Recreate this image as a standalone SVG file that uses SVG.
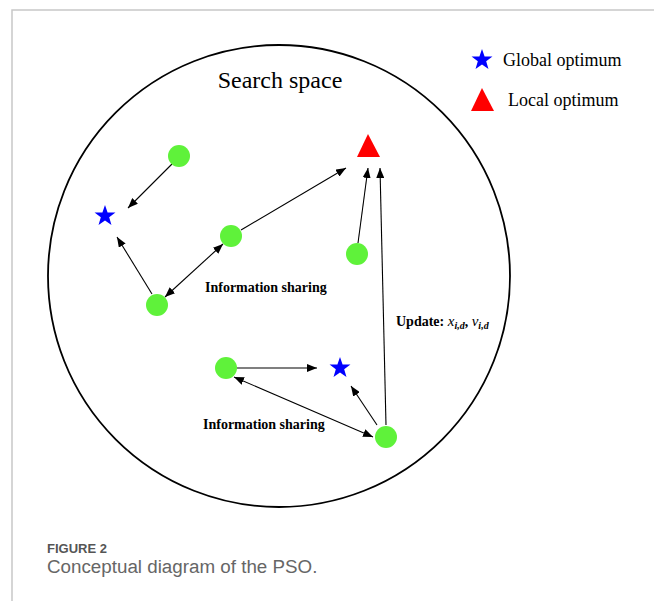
<svg xmlns="http://www.w3.org/2000/svg" xmlns:xlink="http://www.w3.org/1999/xlink" width="654" height="601" viewBox="0 0 654 601">
<style>
.frame{stroke:#c8c8c8;stroke-width:1.5;fill:none}
.space{fill:none;stroke:#000;stroke-width:1.8}
.particle{fill:#5FF23A}
.gbest{fill:#0000FF}
.lbest{fill:#FF0000}
.conn line{stroke:#000;stroke-width:1.1;fill:none}
.serif{font-family:"Liberation Serif","Times New Roman",serif;fill:#000}
.lbl{font-family:"Liberation Serif","Times New Roman",serif;font-weight:bold;font-size:14px;fill:#000}
.cap{font-family:"Liberation Sans",Arial,sans-serif}
</style>
<defs>
<marker id="ah" viewBox="0 0 10 8" refX="10" refY="4" markerWidth="10" markerHeight="8" markerUnits="userSpaceOnUse" orient="auto-start-reverse">
<path d="M0,0 L10,4 L0,8 z" fill="#000"/>
</marker>
<path id="star" d="M0,-11 L2.59,-3.56 L10.46,-3.4 L4.18,1.36 L6.47,8.9 L0,4.4 L-6.47,8.9 L-4.18,1.36 L-10.46,-3.4 L-2.59,-3.56 Z"/>
</defs>
<rect width="654" height="601" fill="#fff"/>
<path class="frame" d="M12,601 L12,10 L654,10"/>
<circle id="search-space" class="space" cx="279" cy="276" r="231"/>
<text class="serif" x="280" y="88" font-size="24" text-anchor="middle">Search space</text>

<g id="legend">
<use xlink:href="#star" href="#star" x="482" y="60" class="gbest"/>
<text class="serif" x="503" y="66" font-size="18">Global optimum</text>
<polygon class="lbest" points="482,88 471,111 494,111"/>
<text class="serif" x="508" y="106" font-size="18">Local optimum</text>
</g>

<g id="connectors" class="conn">
<line x1="172" y1="164" x2="128" y2="208" marker-end="url(#ah)"/>
<line x1="152" y1="294" x2="117" y2="237" marker-end="url(#ah)"/>
<line x1="223" y1="244" x2="165" y2="297" marker-start="url(#ah)" marker-end="url(#ah)"/>
<line x1="241" y1="230" x2="346" y2="168" marker-end="url(#ah)"/>
<line x1="358" y1="243" x2="368" y2="168" marker-end="url(#ah)"/>
<line x1="386" y1="425" x2="380" y2="168" marker-end="url(#ah)"/>
<line x1="237" y1="368" x2="317" y2="368" marker-end="url(#ah)"/>
<line x1="234" y1="377" x2="373" y2="437" marker-start="url(#ah)" marker-end="url(#ah)"/>
<line x1="377" y1="425" x2="351" y2="386" marker-end="url(#ah)"/>
</g>

<g id="global-best-1"><use xlink:href="#star" href="#star" x="105" y="216" class="gbest"/></g>
<g id="global-best-2"><use xlink:href="#star" href="#star" x="340" y="368" class="gbest"/></g>
<g id="local-best"><polygon class="lbest" points="368,134 357,157 380,157"/></g>

<g id="p1"><circle class="particle" cx="179" cy="156" r="11"/></g>
<g id="p2"><circle class="particle" cx="231" cy="236" r="11"/></g>
<g id="p3"><circle class="particle" cx="157" cy="305" r="11"/></g>
<g id="p4"><circle class="particle" cx="357" cy="254" r="11"/></g>
<g id="p5"><circle class="particle" cx="226" cy="368" r="11"/></g>
<g id="p6"><circle class="particle" cx="386" cy="437" r="11"/></g>

<text class="lbl" x="205" y="292">Information sharing</text>
<text class="lbl" x="203" y="429">Information sharing</text>
<text class="lbl" x="396" y="326">Update: <tspan font-style="italic" font-weight="normal" font-size="15">x</tspan><tspan font-style="italic" font-size="10" dy="3">i,d</tspan><tspan dy="-3">, </tspan><tspan font-style="italic" font-weight="normal" font-size="15">v</tspan><tspan font-style="italic" font-size="10" dy="3">i,d</tspan></text>

<text class="cap" x="47" y="553" font-size="13" font-weight="bold" fill="#555">FIGURE 2</text>
<text class="cap" x="47" y="573" font-size="18.8" fill="#666">Conceptual diagram of the PSO.</text>
</svg>
